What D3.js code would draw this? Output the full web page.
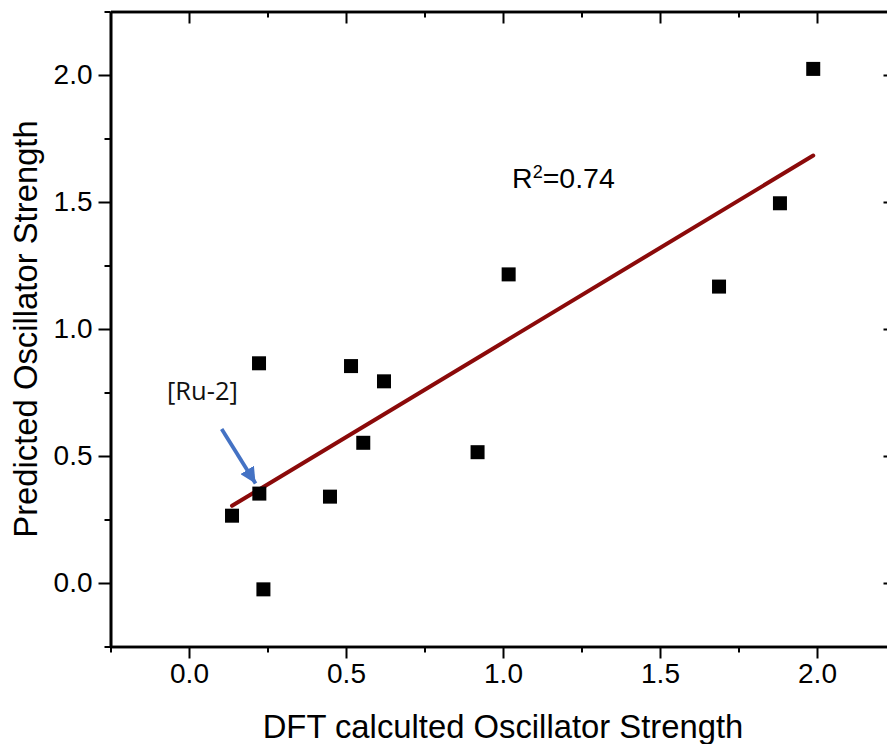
<!DOCTYPE html>
<html>
<head>
<meta charset="utf-8">
<script src="https://cdn.jsdelivr.net/npm/d3@7"></script>
<style>
  body { margin: 0; background: #fff; }
  svg { display: block; }
  .axis text { font-family: "Liberation Sans", Arial, sans-serif; fill: #000; }
  .axis path, .axis line { stroke: #000; }
</style>
</head>
<body>
<svg id="chart"></svg>
<script>
// DFT value vs predicted value, one entry per complex
const dftValues = [0.137, 0.224, 0.223, 0.237, 0.449, 0.516, 0.555, 0.621, 0.919, 1.018, 1.688, 1.882, 1.988];
const predictedValues = [0.265, 0.352, 0.865, -0.025, 0.340, 0.854, 0.552, 0.794, 0.515, 1.215, 1.167, 1.495, 2.024];
const majorTicks = [0.0, 0.5, 1.0, 1.5, 2.0];
const minorTicks = [-0.25, 0.25, 0.75, 1.25, 1.75, 2.25];
const axisDomain = [-0.25, 2.25];
const xTitle = "DFT calculted Oscillator Strength";
const yTitle = "Predicted Oscillator Strength";
const r2Label = "0.74";
const ruLabel = "[Ru-2]";
// arrow pointing at [Ru-2], in data units: [x0, y0, x1, y1]
const ruArrow = [0.104, 0.606, 0.212, 0.392];
const ruLabelPos = [-0.07, 0.72];
const r2Pos = [1.029, 1.555];

const width = 887, height = 744;
const svg = d3.select("#chart").attr("width", width).attr("height", height);

const x = d3.scaleLinear().domain(axisDomain).range([110.5, 895.5]);
const y = d3.scaleLinear().domain(axisDomain).range([646.5, 11.5]);

const points = dftValues.map((v, i) => ({ x: v, y: predictedValues[i] }));

// least squares fit
const mx = d3.mean(dftValues), my = d3.mean(predictedValues);
let sxy = 0, sxx = 0;
points.forEach(p => { sxy += (p.x - mx) * (p.y - my); sxx += (p.x - mx) ** 2; });
const slope = sxy / sxx;
const intercept = my - slope * mx;
const [xmin, xmax] = d3.extent(dftValues);

// axes: major + minor on all four sides
function styleAxis(g, labels) {
    g.select(".domain").attr("stroke-width", 2.6);
    g.selectAll(".tick line").attr("stroke-width", 2);
    if (!labels) g.selectAll(".tick text").remove();
}
const fmt = d3.format(".1f");

svg.append("g").attr("class", "axis")
    .attr("transform", `translate(0,${y.range()[0]})`)
    .call(d3.axisBottom(x).tickValues(majorTicks).tickFormat(fmt).tickSize(12).tickSizeOuter(0).tickPadding(5))
    .call(g => g.selectAll("text").attr("font-size", 28))
    .call(g => styleAxis(g, true));
svg.append("g").attr("class", "axis")
    .attr("transform", `translate(0,${y.range()[0]})`)
    .call(d3.axisBottom(x).tickValues(minorTicks).tickSize(6).tickSizeOuter(0))
    .call(g => styleAxis(g, false));

svg.append("g").attr("class", "axis")
    .attr("transform", `translate(${x.range()[0]},0)`)
    .call(d3.axisLeft(y).tickValues(majorTicks).tickFormat(fmt).tickSize(12).tickSizeOuter(0).tickPadding(6))
    .call(g => g.selectAll("text").attr("font-size", 28))
    .call(g => styleAxis(g, true));
svg.append("g").attr("class", "axis")
    .attr("transform", `translate(${x.range()[0]},0)`)
    .call(d3.axisLeft(y).tickValues(minorTicks).tickSize(6).tickSizeOuter(0))
    .call(g => styleAxis(g, false));

svg.append("g").attr("class", "axis")
    .attr("transform", `translate(0,${y.range()[1]})`)
    .call(d3.axisBottom(x).tickValues(majorTicks).tickSize(12).tickSizeOuter(0))
    .call(g => styleAxis(g, false));
svg.append("g").attr("class", "axis")
    .attr("transform", `translate(0,${y.range()[1]})`)
    .call(d3.axisBottom(x).tickValues(minorTicks).tickSize(6).tickSizeOuter(0))
    .call(g => styleAxis(g, false));

svg.append("g").attr("class", "axis")
    .attr("transform", `translate(${x.range()[1]},0)`)
    .call(d3.axisLeft(y).tickValues(majorTicks).tickSize(12).tickSizeOuter(0))
    .call(g => styleAxis(g, false));
svg.append("g").attr("class", "axis")
    .attr("transform", `translate(${x.range()[1]},0)`)
    .call(d3.axisLeft(y).tickValues(minorTicks).tickSize(6).tickSizeOuter(0))
    .call(g => styleAxis(g, false));

// axis titles
svg.append("text")
    .attr("x", 503).attr("y", 738)
    .attr("text-anchor", "middle")
    .attr("font-family", "Liberation Sans, Arial, sans-serif")
    .attr("font-size", 32.8)
    .text(xTitle);
svg.append("text")
    .attr("transform", "translate(37,329) rotate(-90)")
    .attr("text-anchor", "middle")
    .attr("font-family", "Liberation Sans, Arial, sans-serif")
    .attr("font-size", 32.8)
    .text(yTitle);

// fit line
svg.append("line")
    .attr("x1", x(xmin)).attr("y1", y(slope * xmin + intercept))
    .attr("x2", x(xmax)).attr("y2", y(slope * xmax + intercept))
    .attr("stroke", "#8b0a0a")
    .attr("stroke-width", 4)
    .attr("stroke-linecap", "round");

// points
const sq = 14;
svg.append("g")
    .selectAll("rect")
    .data(points)
    .join("rect")
    .attr("x", d => x(d.x) - sq / 2)
    .attr("y", d => y(d.y) - sq / 2)
    .attr("width", sq)
    .attr("height", sq)
    .attr("fill", "#000");

// R^2 label
const r2 = svg.append("text")
    .attr("x", x(r2Pos[0])).attr("y", y(r2Pos[1]))
    .attr("font-family", "Liberation Sans, Arial, sans-serif")
    .attr("font-size", 28.5);
r2.append("tspan").text("R");
r2.append("tspan").attr("font-size", 18).attr("dy", -10).text("2");
r2.append("tspan").attr("dy", 10).text("=" + r2Label);

// [Ru-2] annotation
svg.append("text")
    .attr("x", x(ruLabelPos[0])).attr("y", y(ruLabelPos[1]))
    .attr("font-family", "Open Sans, sans-serif")
    .attr("font-size", 25.5)
    .attr("fill", "#111")
    .text(ruLabel);

svg.append("defs").append("marker")
    .attr("id", "head")
    .attr("viewBox", "0 0 10 10")
    .attr("refX", 10).attr("refY", 5)
    .attr("markerWidth", 4.2).attr("markerHeight", 4.2)
    .attr("markerUnits", "strokeWidth")
    .attr("orient", "auto")
    .append("path")
    .attr("d", "M0,0 L10,5 L0,10 z")
    .attr("fill", "#4472c4");

svg.append("line")
    .attr("x1", x(ruArrow[0])).attr("y1", y(ruArrow[1]))
    .attr("x2", x(ruArrow[2])).attr("y2", y(ruArrow[3]))
    .attr("stroke", "#4472c4")
    .attr("stroke-width", 3.8)
    .attr("marker-end", "url(#head)");
</script>
</body>
</html>
